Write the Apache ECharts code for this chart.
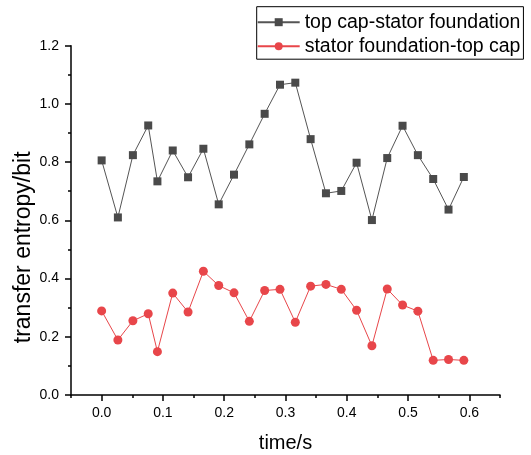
<!DOCTYPE html>
<html>
<head>
<meta charset="utf-8">
<script src="https://cdn.jsdelivr.net/npm/echarts@6/dist/echarts.min.js"></script>
<style>html,body{margin:0;padding:0;background:#fff;}#c{width:531px;height:455px;}</style>
</head>
<body>
<div id="c"></div>
<script>
const times = [0, 0.0265, 0.051, 0.076, 0.091, 0.116, 0.141, 0.166, 0.191, 0.216, 0.241, 0.266, 0.291, 0.316, 0.341, 0.366, 0.391, 0.416, 0.441, 0.466, 0.491, 0.516, 0.541, 0.566, 0.591];
const topCapStator = [0.806, 0.610, 0.824, 0.926, 0.734, 0.840, 0.748, 0.846, 0.655, 0.757, 0.861, 0.966, 1.066, 1.073, 0.879, 0.693, 0.701, 0.798, 0.601, 0.814, 0.925, 0.824, 0.742, 0.637, 0.749];
const statorTopCap = [0.289, 0.189, 0.255, 0.279, 0.149, 0.350, 0.285, 0.425, 0.376, 0.351, 0.253, 0.359, 0.363, 0.250, 0.374, 0.380, 0.363, 0.291, 0.169, 0.364, 0.309, 0.288, 0.119, 0.122, 0.119];
const xTickLabels = ['-0.05','0.0','0.05','0.1','0.15','0.2','0.25','0.3','0.35','0.4','0.45','0.5','0.55','0.6','0.65'];
const seriesNames = ['top cap-stator foundation', 'stator foundation-top cap'];

const FONT = 'Liberation Sans, Arial, sans-serif';
const chart = echarts.init(document.getElementById('c'), null, {renderer: 'canvas'});
const pair = (xs, ys) => xs.map((x, i) => [x, ys[i]]);
chart.setOption({
  animation: false,
  backgroundColor: '#fff',
  grid: {left: 71, right: 31, top: 45.7, bottom: 60, containLabel: false, outerBoundsMode: 'none'},
  legend: {
    orient: 'vertical', left: 256.7, top: 6.7,
    padding: [4.5, 3, 2, 0],
    borderColor: '#000', borderWidth: 1,
    itemWidth: 42, itemHeight: 10, itemGap: 2,
    textStyle: {fontFamily: FONT, fontSize: 19.5, color: '#000', lineHeight: 22},
    data: seriesNames
  },
  xAxis: [{
    type: 'value', min: -0.05, max: 0.65, interval: 0.05,
    axisLine: {onZero: false, lineStyle: {color: '#000', width: 1.5}},
    axisTick: {show: true, length: 3, lineStyle: {color: '#000', width: 1.5}},
    axisLabel: {show: false},
    splitLine: {show: false}
  }, {
    type: 'category', position: 'bottom', boundaryGap: false,
    data: xTickLabels,
    axisLine: {show: false, onZero: false},
    axisTick: {show: true, length: 6, interval: (i) => i % 2 === 1, lineStyle: {color: '#000', width: 1.5}},
    axisLabel: {interval: (i) => i % 2 === 1, margin: 11, fontFamily: FONT, fontSize: 14, color: '#000'},
    name: 'time/s', nameLocation: 'middle', nameGap: 38,
    nameTextStyle: {fontFamily: FONT, fontSize: 20, color: '#000'},
    splitLine: {show: false}
  }],
  yAxis: {
    type: 'value', min: 0, max: 1.2, interval: 0.2,
    axisLine: {show: true, onZero: false, lineStyle: {color: '#000', width: 1.5}},
    axisTick: {show: true, length: 6, lineStyle: {color: '#000', width: 1.5}},
    minorTick: {show: true, splitNumber: 2, length: 3, lineStyle: {color: '#000', width: 1.5}},
    axisLabel: {margin: 12, fontFamily: FONT, fontSize: 14, color: '#000', formatter: (v) => v.toFixed(1)},
    splitLine: {show: false},
    name: 'transfer entropy/bit', nameLocation: 'middle', nameGap: 36, nameMoveOverlap: false,
    nameTextStyle: {fontFamily: FONT, fontSize: 23, color: '#000', padding: [0, 54, 0, 0]}
  },
  series: [{
    name: seriesNames[0], type: 'line', xAxisIndex: 0,
    data: pair(times, topCapStator),
    symbol: 'rect', symbolSize: 8,
    itemStyle: {color: '#4a4a4a'},
    lineStyle: {color: '#555555', width: 1}
  }, {
    name: seriesNames[1], type: 'line', xAxisIndex: 0,
    data: pair(times, statorTopCap),
    symbol: 'circle', symbolSize: 9,
    itemStyle: {color: '#e8464a'},
    lineStyle: {color: '#e8464a', width: 1}
  }]
});
</script>
</body>
</html>
